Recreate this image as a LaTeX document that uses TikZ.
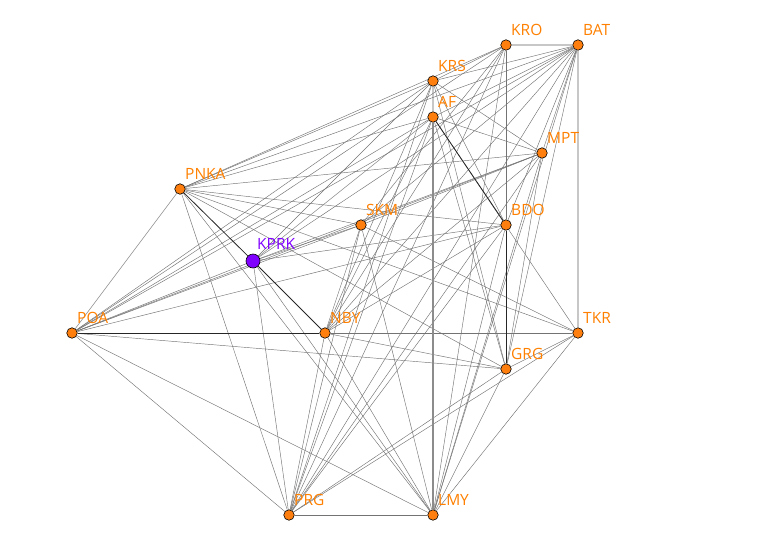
\documentclass[tikz,border=0pt]{standalone}
\usepackage{fontspec}
\setmainfont{Open Sans}
\usetikzlibrary{calc,backgrounds}
\definecolor{nodeor}{HTML}{FF7F0E}
\definecolor{labor}{HTML}{FF8000}
\definecolor{purp}{HTML}{7F00FF}
\tikzset{
  vert/.style={circle,draw=black,line width=0.6pt,fill=nodeor,minimum size=10.5pt,inner sep=0pt},
  vertp/.style={circle,draw=black,line width=0.6pt,fill=purp,minimum size=14pt,inner sep=0pt},
  lab/.style={anchor=base west,inner sep=0pt,text=labor,font=\fontsize{15.5}{15.5}\selectfont},
  labp/.style={lab,text=purp},
  ed/.style={draw=black!55,line width=0.45pt},
  edd/.style={draw=black!85,line width=0.8pt},
  edl/.style={draw=black!22,line width=1.4pt},
  edm/.style={draw=black!45,line width=1.3pt},
}
\begin{document}
\begin{tikzpicture}[x=1pt,y=-1pt]
\useasboundingbox (0,0) rectangle (781,546);
\foreach \n/\x/\y in {KRO/506/45,BAT/578/45,KRS/433/81,AF/433/117,MPT/542/153,PNKA/180/189,SKM/361/225,BDO/506/225,POA/72/333,NBY/325/333,TKR/578/333,GRG/506/369,PRG/289/515,LMY/433/515}{
  \node[vert] (\n) at (\x,\y) {};
  \node[lab] (l\n) at ($(\n.center)+(5,-10)$) {\n};
}
\node[vertp] (KPRK) at (253,261) {};
\node[labp] (lKPRK) at ($(KPRK.center)+(4,-12)$) {KPRK};
\begin{scope}[on background layer]
\foreach \a/\b in {KRO/BAT,BAT/TKR,KRS/AF}{\draw[edl] (\a)--(\b);}
\foreach \a/\b in {PRG/LMY,KRO/BDO,NBY/TKR,PNKA/TKR,AF/TKR,TKR/LMY,TKR/PRG,TKR/GRG,
 POA/PNKA,POA/KRS,POA/AF,POA/KRO,POA/BAT,POA/SKM,POA/KPRK,POA/MPT,POA/BDO,POA/GRG,POA/PRG,POA/LMY,
 PNKA/KRS,PNKA/AF,PNKA/KRO,PNKA/BAT,PNKA/MPT,PNKA/SKM,PNKA/BDO,PNKA/PRG,PNKA/LMY,PNKA/GRG,
 KRO/KRS,KRO/SKM,KRO/NBY,KRO/PRG,KRO/LMY,
 BAT/KRS,BAT/AF,BAT/SKM,BAT/KPRK,BAT/MPT,BAT/BDO,BAT/NBY,BAT/GRG,BAT/PRG,BAT/LMY,
 KRS/KPRK,KRS/MPT,KRS/NBY,KRS/PRG,KRS/GRG,KRS/BDO,
 AF/MPT,AF/KPRK,AF/NBY,AF/PRG,AF/GRG,
 MPT/SKM,MPT/KPRK,MPT/NBY,MPT/PRG,MPT/LMY,MPT/GRG,
 BDO/KPRK,BDO/NBY,BDO/PRG,BDO/LMY,
 SKM/NBY,SKM/PRG,SKM/LMY,SKM/TKR,SKM/KPRK,
 NBY/GRG,NBY/PRG,NBY/LMY,GRG/PRG,GRG/LMY,KPRK/PRG,KPRK/LMY}{\draw[ed] (\a)--(\b);}
\foreach \a/\b in {PNKA/KPRK,KPRK/NBY,POA/NBY,AF/BDO,BDO/GRG}{\draw[edd] (\a)--(\b);}
\draw[edm] (AF)--(LMY);
\end{scope}
\end{tikzpicture}
\end{document}
